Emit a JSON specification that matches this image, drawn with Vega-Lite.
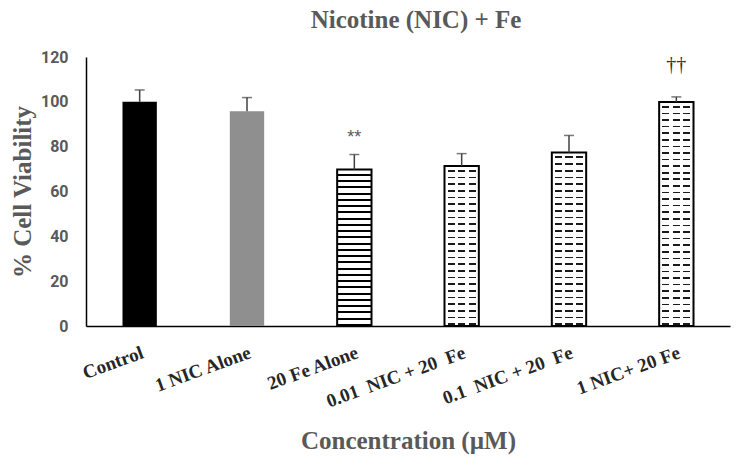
{
  "$schema": "https://vega.github.io/schema/vega-lite/v6.json",
  "autosize": {"type": "none"},
  "padding": {"left": 86, "top": 57, "right": 20, "bottom": 144},
  "width": 644,
  "height": 269,
  "background": "white",
  "config": {"view": {"stroke": null}},
  "title": {"text": "Nicotine (NIC) + Fe", "font": "Liberation Serif", "fontSize": 25, "fontWeight": "bold", "color": "#595959", "anchor": "middle", "dx": 8, "offset": 16},
  "data": {"values": [
    {"group": "Control", "value": 100, "err": 105.3, "sig": ""},
    {"group": "1 NIC Alone", "value": 95.8, "err": 101.9, "sig": ""},
    {"group": "20 Fe Alone", "value": 69.8, "err": 76.5, "sig": "**"},
    {"group": "0.01\u00a0 NIC + 20\u00a0 Fe", "value": 71.4, "err": 76.9, "sig": ""},
    {"group": "0.1\u00a0 NIC + 20\u00a0 Fe", "value": 77.4, "err": 85.0, "sig": ""},
    {"group": "1 NIC+ 20 Fe", "value": 99.9, "err": 102.2, "sig": "††"}
  ]},
  "encoding": {
    "x": {"field": "group", "type": "nominal", "sort": null,
      "scale": {"domain": ["Control", "1 NIC Alone", "20 Fe Alone", "0.01\u00a0 NIC + 20\u00a0 Fe", "0.1\u00a0 NIC + 20\u00a0 Fe", "1 NIC+ 20 Fe"], "paddingInner": 0.68, "paddingOuter": 0.34},
      "axis": {"title": "Concentration (µM)", "labelAngle": -20, "labelAlign": "right", "labelBaseline": "top", "labelPadding": 17, "labelOverlap": false, "labelFont": "Liberation Serif", "labelFontWeight": "bold", "labelFontSize": 19, "labelColor": "#262626", "ticks": false, "domainColor": "#000000", "domainWidth": 1.5, "titleFont": "Liberation Serif", "titleFontSize": 25, "titleFontWeight": "bold", "titleColor": "#595959", "titleY": 122, "titleBaseline": "alphabetic"}
    },
    "y": {"field": "value", "type": "quantitative", "title": "% Cell Viability",
      "scale": {"domain": [0, 120], "nice": false},
      "axis": {"values": [0, 20, 40, 60, 80, 100, 120], "grid": false, "ticks": false, "domainColor": "#000000", "domainWidth": 1.5, "labelFont": "Roboto", "labelFontWeight": "bold", "labelFontSize": 16, "labelColor": "#595959", "labelPadding": 18, "titleFont": "Liberation Serif", "titleFontSize": 25, "titleFontWeight": "bold", "titleColor": "#595959", "titleAngle": -90, "titleX": -56, "titleY": 134.5, "titleBaseline": "alphabetic", "titleAlign": "center"}
    }
  },
  "layer": [
    {"transform": [{"filter": {"field": "group", "equal": "Control"}}], "mark": {"type": "bar", "fill": "#000000"}},
    {"transform": [{"filter": {"field": "group", "equal": "1 NIC Alone"}}], "mark": {"type": "bar", "fill": "#8f8f8f"}},
    {"transform": [{"filter": {"field": "group", "equal": "20 Fe Alone"}}], "mark": {"type": "bar", "stroke": "#000000", "strokeWidth": 2,
      "fill": {"gradient": "linear", "x1": 0, "y1": 0, "x2": 0, "y2": 1, "stops": [
        {"offset": 0, "color": "#ffffff"},
        {"offset": 0.027, "color": "#ffffff"}, {"offset": 0.027, "color": "#000000"}, {"offset": 0.04, "color": "#000000"}, {"offset": 0.04, "color": "#ffffff"},
        {"offset": 0.067, "color": "#ffffff"}, {"offset": 0.067, "color": "#000000"}, {"offset": 0.08, "color": "#000000"}, {"offset": 0.08, "color": "#ffffff"},
        {"offset": 0.107, "color": "#ffffff"}, {"offset": 0.107, "color": "#000000"}, {"offset": 0.12, "color": "#000000"}, {"offset": 0.12, "color": "#ffffff"},
        {"offset": 0.147, "color": "#ffffff"}, {"offset": 0.147, "color": "#000000"}, {"offset": 0.16, "color": "#000000"}, {"offset": 0.16, "color": "#ffffff"},
        {"offset": 0.187, "color": "#ffffff"}, {"offset": 0.187, "color": "#000000"}, {"offset": 0.2, "color": "#000000"}, {"offset": 0.2, "color": "#ffffff"},
        {"offset": 0.227, "color": "#ffffff"}, {"offset": 0.227, "color": "#000000"}, {"offset": 0.24, "color": "#000000"}, {"offset": 0.24, "color": "#ffffff"},
        {"offset": 0.267, "color": "#ffffff"}, {"offset": 0.267, "color": "#000000"}, {"offset": 0.28, "color": "#000000"}, {"offset": 0.28, "color": "#ffffff"},
        {"offset": 0.307, "color": "#ffffff"}, {"offset": 0.307, "color": "#000000"}, {"offset": 0.32, "color": "#000000"}, {"offset": 0.32, "color": "#ffffff"},
        {"offset": 0.347, "color": "#ffffff"}, {"offset": 0.347, "color": "#000000"}, {"offset": 0.36, "color": "#000000"}, {"offset": 0.36, "color": "#ffffff"},
        {"offset": 0.387, "color": "#ffffff"}, {"offset": 0.387, "color": "#000000"}, {"offset": 0.4, "color": "#000000"}, {"offset": 0.4, "color": "#ffffff"},
        {"offset": 0.427, "color": "#ffffff"}, {"offset": 0.427, "color": "#000000"}, {"offset": 0.44, "color": "#000000"}, {"offset": 0.44, "color": "#ffffff"},
        {"offset": 0.467, "color": "#ffffff"}, {"offset": 0.467, "color": "#000000"}, {"offset": 0.48, "color": "#000000"}, {"offset": 0.48, "color": "#ffffff"},
        {"offset": 0.507, "color": "#ffffff"}, {"offset": 0.507, "color": "#000000"}, {"offset": 0.52, "color": "#000000"}, {"offset": 0.52, "color": "#ffffff"},
        {"offset": 0.547, "color": "#ffffff"}, {"offset": 0.547, "color": "#000000"}, {"offset": 0.56, "color": "#000000"}, {"offset": 0.56, "color": "#ffffff"},
        {"offset": 0.587, "color": "#ffffff"}, {"offset": 0.587, "color": "#000000"}, {"offset": 0.6, "color": "#000000"}, {"offset": 0.6, "color": "#ffffff"},
        {"offset": 0.627, "color": "#ffffff"}, {"offset": 0.627, "color": "#000000"}, {"offset": 0.64, "color": "#000000"}, {"offset": 0.64, "color": "#ffffff"},
        {"offset": 0.667, "color": "#ffffff"}, {"offset": 0.667, "color": "#000000"}, {"offset": 0.68, "color": "#000000"}, {"offset": 0.68, "color": "#ffffff"},
        {"offset": 0.707, "color": "#ffffff"}, {"offset": 0.707, "color": "#000000"}, {"offset": 0.72, "color": "#000000"}, {"offset": 0.72, "color": "#ffffff"},
        {"offset": 0.747, "color": "#ffffff"}, {"offset": 0.747, "color": "#000000"}, {"offset": 0.76, "color": "#000000"}, {"offset": 0.76, "color": "#ffffff"},
        {"offset": 0.787, "color": "#ffffff"}, {"offset": 0.787, "color": "#000000"}, {"offset": 0.8, "color": "#000000"}, {"offset": 0.8, "color": "#ffffff"},
        {"offset": 0.827, "color": "#ffffff"}, {"offset": 0.827, "color": "#000000"}, {"offset": 0.84, "color": "#000000"}, {"offset": 0.84, "color": "#ffffff"},
        {"offset": 0.867, "color": "#ffffff"}, {"offset": 0.867, "color": "#000000"}, {"offset": 0.88, "color": "#000000"}, {"offset": 0.88, "color": "#ffffff"},
        {"offset": 0.907, "color": "#ffffff"}, {"offset": 0.907, "color": "#000000"}, {"offset": 0.92, "color": "#000000"}, {"offset": 0.92, "color": "#ffffff"},
        {"offset": 0.947, "color": "#ffffff"}, {"offset": 0.947, "color": "#000000"}, {"offset": 0.96, "color": "#000000"}, {"offset": 0.96, "color": "#ffffff"},
        {"offset": 0.987, "color": "#ffffff"}, {"offset": 0.987, "color": "#000000"}, {"offset": 1, "color": "#000000"}
      ]}}},
    {"transform": [{"filter": {"field": "group", "equal": "0.01\u00a0 NIC + 20\u00a0 Fe"}}], "mark": {"type": "bar",
      "fill": {"gradient": "linear", "x1": 0, "y1": 0, "x2": 0, "y2": 1, "stops": [
        {"offset": 0, "color": "#ffffff"},
        {"offset": 0.025, "color": "#ffffff"}, {"offset": 0.025, "color": "#1a1a1a"}, {"offset": 0.03542, "color": "#1a1a1a"}, {"offset": 0.03542, "color": "#ffffff"},
        {"offset": 0.06667, "color": "#ffffff"}, {"offset": 0.06667, "color": "#1a1a1a"}, {"offset": 0.07708, "color": "#1a1a1a"}, {"offset": 0.07708, "color": "#ffffff"},
        {"offset": 0.10833, "color": "#ffffff"}, {"offset": 0.10833, "color": "#1a1a1a"}, {"offset": 0.11875, "color": "#1a1a1a"}, {"offset": 0.11875, "color": "#ffffff"},
        {"offset": 0.15, "color": "#ffffff"}, {"offset": 0.15, "color": "#1a1a1a"}, {"offset": 0.16042, "color": "#1a1a1a"}, {"offset": 0.16042, "color": "#ffffff"},
        {"offset": 0.19167, "color": "#ffffff"}, {"offset": 0.19167, "color": "#1a1a1a"}, {"offset": 0.20208, "color": "#1a1a1a"}, {"offset": 0.20208, "color": "#ffffff"},
        {"offset": 0.23333, "color": "#ffffff"}, {"offset": 0.23333, "color": "#1a1a1a"}, {"offset": 0.24375, "color": "#1a1a1a"}, {"offset": 0.24375, "color": "#ffffff"},
        {"offset": 0.275, "color": "#ffffff"}, {"offset": 0.275, "color": "#1a1a1a"}, {"offset": 0.28542, "color": "#1a1a1a"}, {"offset": 0.28542, "color": "#ffffff"},
        {"offset": 0.31667, "color": "#ffffff"}, {"offset": 0.31667, "color": "#1a1a1a"}, {"offset": 0.32708, "color": "#1a1a1a"}, {"offset": 0.32708, "color": "#ffffff"},
        {"offset": 0.35833, "color": "#ffffff"}, {"offset": 0.35833, "color": "#1a1a1a"}, {"offset": 0.36875, "color": "#1a1a1a"}, {"offset": 0.36875, "color": "#ffffff"},
        {"offset": 0.4, "color": "#ffffff"}, {"offset": 0.4, "color": "#1a1a1a"}, {"offset": 0.41042, "color": "#1a1a1a"}, {"offset": 0.41042, "color": "#ffffff"},
        {"offset": 0.44167, "color": "#ffffff"}, {"offset": 0.44167, "color": "#1a1a1a"}, {"offset": 0.45208, "color": "#1a1a1a"}, {"offset": 0.45208, "color": "#ffffff"},
        {"offset": 0.48333, "color": "#ffffff"}, {"offset": 0.48333, "color": "#1a1a1a"}, {"offset": 0.49375, "color": "#1a1a1a"}, {"offset": 0.49375, "color": "#ffffff"},
        {"offset": 0.525, "color": "#ffffff"}, {"offset": 0.525, "color": "#1a1a1a"}, {"offset": 0.53542, "color": "#1a1a1a"}, {"offset": 0.53542, "color": "#ffffff"},
        {"offset": 0.56667, "color": "#ffffff"}, {"offset": 0.56667, "color": "#1a1a1a"}, {"offset": 0.57708, "color": "#1a1a1a"}, {"offset": 0.57708, "color": "#ffffff"},
        {"offset": 0.60833, "color": "#ffffff"}, {"offset": 0.60833, "color": "#1a1a1a"}, {"offset": 0.61875, "color": "#1a1a1a"}, {"offset": 0.61875, "color": "#ffffff"},
        {"offset": 0.65, "color": "#ffffff"}, {"offset": 0.65, "color": "#1a1a1a"}, {"offset": 0.66042, "color": "#1a1a1a"}, {"offset": 0.66042, "color": "#ffffff"},
        {"offset": 0.69167, "color": "#ffffff"}, {"offset": 0.69167, "color": "#1a1a1a"}, {"offset": 0.70208, "color": "#1a1a1a"}, {"offset": 0.70208, "color": "#ffffff"},
        {"offset": 0.73333, "color": "#ffffff"}, {"offset": 0.73333, "color": "#1a1a1a"}, {"offset": 0.74375, "color": "#1a1a1a"}, {"offset": 0.74375, "color": "#ffffff"},
        {"offset": 0.775, "color": "#ffffff"}, {"offset": 0.775, "color": "#1a1a1a"}, {"offset": 0.78542, "color": "#1a1a1a"}, {"offset": 0.78542, "color": "#ffffff"},
        {"offset": 0.81667, "color": "#ffffff"}, {"offset": 0.81667, "color": "#1a1a1a"}, {"offset": 0.82708, "color": "#1a1a1a"}, {"offset": 0.82708, "color": "#ffffff"},
        {"offset": 0.85833, "color": "#ffffff"}, {"offset": 0.85833, "color": "#1a1a1a"}, {"offset": 0.86875, "color": "#1a1a1a"}, {"offset": 0.86875, "color": "#ffffff"},
        {"offset": 0.9, "color": "#ffffff"}, {"offset": 0.9, "color": "#1a1a1a"}, {"offset": 0.91042, "color": "#1a1a1a"}, {"offset": 0.91042, "color": "#ffffff"},
        {"offset": 0.94167, "color": "#ffffff"}, {"offset": 0.94167, "color": "#1a1a1a"}, {"offset": 0.95208, "color": "#1a1a1a"}, {"offset": 0.95208, "color": "#ffffff"},
        {"offset": 0.98333, "color": "#ffffff"}, {"offset": 0.98333, "color": "#1a1a1a"}, {"offset": 0.99375, "color": "#1a1a1a"}, {"offset": 0.99375, "color": "#ffffff"},
        {"offset": 1, "color": "#ffffff"}
      ]}}},
    {"transform": [{"filter": {"field": "group", "equal": "0.1\u00a0 NIC + 20\u00a0 Fe"}}], "mark": {"type": "bar",
      "fill": {"gradient": "linear", "x1": 0, "y1": 0, "x2": 0, "y2": 1, "stops": [
        {"offset": 0, "color": "#ffffff"},
        {"offset": 0.02308, "color": "#ffffff"}, {"offset": 0.02308, "color": "#1a1a1a"}, {"offset": 0.03269, "color": "#1a1a1a"}, {"offset": 0.03269, "color": "#ffffff"},
        {"offset": 0.06154, "color": "#ffffff"}, {"offset": 0.06154, "color": "#1a1a1a"}, {"offset": 0.07115, "color": "#1a1a1a"}, {"offset": 0.07115, "color": "#ffffff"},
        {"offset": 0.1, "color": "#ffffff"}, {"offset": 0.1, "color": "#1a1a1a"}, {"offset": 0.10962, "color": "#1a1a1a"}, {"offset": 0.10962, "color": "#ffffff"},
        {"offset": 0.13846, "color": "#ffffff"}, {"offset": 0.13846, "color": "#1a1a1a"}, {"offset": 0.14808, "color": "#1a1a1a"}, {"offset": 0.14808, "color": "#ffffff"},
        {"offset": 0.17692, "color": "#ffffff"}, {"offset": 0.17692, "color": "#1a1a1a"}, {"offset": 0.18654, "color": "#1a1a1a"}, {"offset": 0.18654, "color": "#ffffff"},
        {"offset": 0.21538, "color": "#ffffff"}, {"offset": 0.21538, "color": "#1a1a1a"}, {"offset": 0.225, "color": "#1a1a1a"}, {"offset": 0.225, "color": "#ffffff"},
        {"offset": 0.25385, "color": "#ffffff"}, {"offset": 0.25385, "color": "#1a1a1a"}, {"offset": 0.26346, "color": "#1a1a1a"}, {"offset": 0.26346, "color": "#ffffff"},
        {"offset": 0.29231, "color": "#ffffff"}, {"offset": 0.29231, "color": "#1a1a1a"}, {"offset": 0.30192, "color": "#1a1a1a"}, {"offset": 0.30192, "color": "#ffffff"},
        {"offset": 0.33077, "color": "#ffffff"}, {"offset": 0.33077, "color": "#1a1a1a"}, {"offset": 0.34038, "color": "#1a1a1a"}, {"offset": 0.34038, "color": "#ffffff"},
        {"offset": 0.36923, "color": "#ffffff"}, {"offset": 0.36923, "color": "#1a1a1a"}, {"offset": 0.37885, "color": "#1a1a1a"}, {"offset": 0.37885, "color": "#ffffff"},
        {"offset": 0.40769, "color": "#ffffff"}, {"offset": 0.40769, "color": "#1a1a1a"}, {"offset": 0.41731, "color": "#1a1a1a"}, {"offset": 0.41731, "color": "#ffffff"},
        {"offset": 0.44615, "color": "#ffffff"}, {"offset": 0.44615, "color": "#1a1a1a"}, {"offset": 0.45577, "color": "#1a1a1a"}, {"offset": 0.45577, "color": "#ffffff"},
        {"offset": 0.48462, "color": "#ffffff"}, {"offset": 0.48462, "color": "#1a1a1a"}, {"offset": 0.49423, "color": "#1a1a1a"}, {"offset": 0.49423, "color": "#ffffff"},
        {"offset": 0.52308, "color": "#ffffff"}, {"offset": 0.52308, "color": "#1a1a1a"}, {"offset": 0.53269, "color": "#1a1a1a"}, {"offset": 0.53269, "color": "#ffffff"},
        {"offset": 0.56154, "color": "#ffffff"}, {"offset": 0.56154, "color": "#1a1a1a"}, {"offset": 0.57115, "color": "#1a1a1a"}, {"offset": 0.57115, "color": "#ffffff"},
        {"offset": 0.6, "color": "#ffffff"}, {"offset": 0.6, "color": "#1a1a1a"}, {"offset": 0.60962, "color": "#1a1a1a"}, {"offset": 0.60962, "color": "#ffffff"},
        {"offset": 0.63846, "color": "#ffffff"}, {"offset": 0.63846, "color": "#1a1a1a"}, {"offset": 0.64808, "color": "#1a1a1a"}, {"offset": 0.64808, "color": "#ffffff"},
        {"offset": 0.67692, "color": "#ffffff"}, {"offset": 0.67692, "color": "#1a1a1a"}, {"offset": 0.68654, "color": "#1a1a1a"}, {"offset": 0.68654, "color": "#ffffff"},
        {"offset": 0.71538, "color": "#ffffff"}, {"offset": 0.71538, "color": "#1a1a1a"}, {"offset": 0.725, "color": "#1a1a1a"}, {"offset": 0.725, "color": "#ffffff"},
        {"offset": 0.75385, "color": "#ffffff"}, {"offset": 0.75385, "color": "#1a1a1a"}, {"offset": 0.76346, "color": "#1a1a1a"}, {"offset": 0.76346, "color": "#ffffff"},
        {"offset": 0.79231, "color": "#ffffff"}, {"offset": 0.79231, "color": "#1a1a1a"}, {"offset": 0.80192, "color": "#1a1a1a"}, {"offset": 0.80192, "color": "#ffffff"},
        {"offset": 0.83077, "color": "#ffffff"}, {"offset": 0.83077, "color": "#1a1a1a"}, {"offset": 0.84038, "color": "#1a1a1a"}, {"offset": 0.84038, "color": "#ffffff"},
        {"offset": 0.86923, "color": "#ffffff"}, {"offset": 0.86923, "color": "#1a1a1a"}, {"offset": 0.87885, "color": "#1a1a1a"}, {"offset": 0.87885, "color": "#ffffff"},
        {"offset": 0.90769, "color": "#ffffff"}, {"offset": 0.90769, "color": "#1a1a1a"}, {"offset": 0.91731, "color": "#1a1a1a"}, {"offset": 0.91731, "color": "#ffffff"},
        {"offset": 0.94615, "color": "#ffffff"}, {"offset": 0.94615, "color": "#1a1a1a"}, {"offset": 0.95577, "color": "#1a1a1a"}, {"offset": 0.95577, "color": "#ffffff"},
        {"offset": 0.98462, "color": "#ffffff"}, {"offset": 0.98462, "color": "#1a1a1a"}, {"offset": 0.99423, "color": "#1a1a1a"}, {"offset": 0.99423, "color": "#ffffff"},
        {"offset": 1, "color": "#ffffff"}
      ]}}},
    {"transform": [{"filter": {"field": "group", "equal": "1 NIC+ 20 Fe"}}], "mark": {"type": "bar",
      "fill": {"gradient": "linear", "x1": 0, "y1": 0, "x2": 0, "y2": 1, "stops": [
        {"offset": 0, "color": "#ffffff"},
        {"offset": 0.01765, "color": "#ffffff"}, {"offset": 0.01765, "color": "#1a1a1a"}, {"offset": 0.025, "color": "#1a1a1a"}, {"offset": 0.025, "color": "#ffffff"},
        {"offset": 0.04706, "color": "#ffffff"}, {"offset": 0.04706, "color": "#1a1a1a"}, {"offset": 0.05441, "color": "#1a1a1a"}, {"offset": 0.05441, "color": "#ffffff"},
        {"offset": 0.07647, "color": "#ffffff"}, {"offset": 0.07647, "color": "#1a1a1a"}, {"offset": 0.08382, "color": "#1a1a1a"}, {"offset": 0.08382, "color": "#ffffff"},
        {"offset": 0.10588, "color": "#ffffff"}, {"offset": 0.10588, "color": "#1a1a1a"}, {"offset": 0.11324, "color": "#1a1a1a"}, {"offset": 0.11324, "color": "#ffffff"},
        {"offset": 0.13529, "color": "#ffffff"}, {"offset": 0.13529, "color": "#1a1a1a"}, {"offset": 0.14265, "color": "#1a1a1a"}, {"offset": 0.14265, "color": "#ffffff"},
        {"offset": 0.16471, "color": "#ffffff"}, {"offset": 0.16471, "color": "#1a1a1a"}, {"offset": 0.17206, "color": "#1a1a1a"}, {"offset": 0.17206, "color": "#ffffff"},
        {"offset": 0.19412, "color": "#ffffff"}, {"offset": 0.19412, "color": "#1a1a1a"}, {"offset": 0.20147, "color": "#1a1a1a"}, {"offset": 0.20147, "color": "#ffffff"},
        {"offset": 0.22353, "color": "#ffffff"}, {"offset": 0.22353, "color": "#1a1a1a"}, {"offset": 0.23088, "color": "#1a1a1a"}, {"offset": 0.23088, "color": "#ffffff"},
        {"offset": 0.25294, "color": "#ffffff"}, {"offset": 0.25294, "color": "#1a1a1a"}, {"offset": 0.26029, "color": "#1a1a1a"}, {"offset": 0.26029, "color": "#ffffff"},
        {"offset": 0.28235, "color": "#ffffff"}, {"offset": 0.28235, "color": "#1a1a1a"}, {"offset": 0.28971, "color": "#1a1a1a"}, {"offset": 0.28971, "color": "#ffffff"},
        {"offset": 0.31176, "color": "#ffffff"}, {"offset": 0.31176, "color": "#1a1a1a"}, {"offset": 0.31912, "color": "#1a1a1a"}, {"offset": 0.31912, "color": "#ffffff"},
        {"offset": 0.34118, "color": "#ffffff"}, {"offset": 0.34118, "color": "#1a1a1a"}, {"offset": 0.34853, "color": "#1a1a1a"}, {"offset": 0.34853, "color": "#ffffff"},
        {"offset": 0.37059, "color": "#ffffff"}, {"offset": 0.37059, "color": "#1a1a1a"}, {"offset": 0.37794, "color": "#1a1a1a"}, {"offset": 0.37794, "color": "#ffffff"},
        {"offset": 0.4, "color": "#ffffff"}, {"offset": 0.4, "color": "#1a1a1a"}, {"offset": 0.40735, "color": "#1a1a1a"}, {"offset": 0.40735, "color": "#ffffff"},
        {"offset": 0.42941, "color": "#ffffff"}, {"offset": 0.42941, "color": "#1a1a1a"}, {"offset": 0.43676, "color": "#1a1a1a"}, {"offset": 0.43676, "color": "#ffffff"},
        {"offset": 0.45882, "color": "#ffffff"}, {"offset": 0.45882, "color": "#1a1a1a"}, {"offset": 0.46618, "color": "#1a1a1a"}, {"offset": 0.46618, "color": "#ffffff"},
        {"offset": 0.48824, "color": "#ffffff"}, {"offset": 0.48824, "color": "#1a1a1a"}, {"offset": 0.49559, "color": "#1a1a1a"}, {"offset": 0.49559, "color": "#ffffff"},
        {"offset": 0.51765, "color": "#ffffff"}, {"offset": 0.51765, "color": "#1a1a1a"}, {"offset": 0.525, "color": "#1a1a1a"}, {"offset": 0.525, "color": "#ffffff"},
        {"offset": 0.54706, "color": "#ffffff"}, {"offset": 0.54706, "color": "#1a1a1a"}, {"offset": 0.55441, "color": "#1a1a1a"}, {"offset": 0.55441, "color": "#ffffff"},
        {"offset": 0.57647, "color": "#ffffff"}, {"offset": 0.57647, "color": "#1a1a1a"}, {"offset": 0.58382, "color": "#1a1a1a"}, {"offset": 0.58382, "color": "#ffffff"},
        {"offset": 0.60588, "color": "#ffffff"}, {"offset": 0.60588, "color": "#1a1a1a"}, {"offset": 0.61324, "color": "#1a1a1a"}, {"offset": 0.61324, "color": "#ffffff"},
        {"offset": 0.63529, "color": "#ffffff"}, {"offset": 0.63529, "color": "#1a1a1a"}, {"offset": 0.64265, "color": "#1a1a1a"}, {"offset": 0.64265, "color": "#ffffff"},
        {"offset": 0.66471, "color": "#ffffff"}, {"offset": 0.66471, "color": "#1a1a1a"}, {"offset": 0.67206, "color": "#1a1a1a"}, {"offset": 0.67206, "color": "#ffffff"},
        {"offset": 0.69412, "color": "#ffffff"}, {"offset": 0.69412, "color": "#1a1a1a"}, {"offset": 0.70147, "color": "#1a1a1a"}, {"offset": 0.70147, "color": "#ffffff"},
        {"offset": 0.72353, "color": "#ffffff"}, {"offset": 0.72353, "color": "#1a1a1a"}, {"offset": 0.73088, "color": "#1a1a1a"}, {"offset": 0.73088, "color": "#ffffff"},
        {"offset": 0.75294, "color": "#ffffff"}, {"offset": 0.75294, "color": "#1a1a1a"}, {"offset": 0.76029, "color": "#1a1a1a"}, {"offset": 0.76029, "color": "#ffffff"},
        {"offset": 0.78235, "color": "#ffffff"}, {"offset": 0.78235, "color": "#1a1a1a"}, {"offset": 0.78971, "color": "#1a1a1a"}, {"offset": 0.78971, "color": "#ffffff"},
        {"offset": 0.81176, "color": "#ffffff"}, {"offset": 0.81176, "color": "#1a1a1a"}, {"offset": 0.81912, "color": "#1a1a1a"}, {"offset": 0.81912, "color": "#ffffff"},
        {"offset": 0.84118, "color": "#ffffff"}, {"offset": 0.84118, "color": "#1a1a1a"}, {"offset": 0.84853, "color": "#1a1a1a"}, {"offset": 0.84853, "color": "#ffffff"},
        {"offset": 0.87059, "color": "#ffffff"}, {"offset": 0.87059, "color": "#1a1a1a"}, {"offset": 0.87794, "color": "#1a1a1a"}, {"offset": 0.87794, "color": "#ffffff"},
        {"offset": 0.9, "color": "#ffffff"}, {"offset": 0.9, "color": "#1a1a1a"}, {"offset": 0.90735, "color": "#1a1a1a"}, {"offset": 0.90735, "color": "#ffffff"},
        {"offset": 0.92941, "color": "#ffffff"}, {"offset": 0.92941, "color": "#1a1a1a"}, {"offset": 0.93676, "color": "#1a1a1a"}, {"offset": 0.93676, "color": "#ffffff"},
        {"offset": 0.95882, "color": "#ffffff"}, {"offset": 0.95882, "color": "#1a1a1a"}, {"offset": 0.96618, "color": "#1a1a1a"}, {"offset": 0.96618, "color": "#ffffff"},
        {"offset": 0.98824, "color": "#ffffff"}, {"offset": 0.98824, "color": "#1a1a1a"}, {"offset": 0.99559, "color": "#1a1a1a"}, {"offset": 0.99559, "color": "#ffffff"},
        {"offset": 1, "color": "#ffffff"}
      ]}}},
    {"transform": [{"filter": {"field": "group", "oneOf": ["0.01\u00a0 NIC + 20\u00a0 Fe", "0.1\u00a0 NIC + 20\u00a0 Fe", "1 NIC+ 20 Fe"]}}], "mark": {"type": "bar", "stroke": "#000000", "strokeWidth": 2,
      "fill": {"gradient": "linear", "x1": 0, "y1": 0, "x2": 1, "y2": 0, "stops": [
        {"offset": 0, "color": "rgba(255,255,255,1)"}, {"offset": 0.088, "color": "rgba(255,255,255,1)"}, {"offset": 0.088, "color": "rgba(255,255,255,0)"},
        {"offset": 0.294, "color": "rgba(255,255,255,0)"}, {"offset": 0.294, "color": "rgba(255,255,255,1)"}, {"offset": 0.397, "color": "rgba(255,255,255,1)"},
        {"offset": 0.397, "color": "rgba(255,255,255,0)"}, {"offset": 0.603, "color": "rgba(255,255,255,0)"}, {"offset": 0.603, "color": "rgba(255,255,255,1)"},
        {"offset": 0.706, "color": "rgba(255,255,255,1)"}, {"offset": 0.706, "color": "rgba(255,255,255,0)"}, {"offset": 0.912, "color": "rgba(255,255,255,0)"},
        {"offset": 0.912, "color": "rgba(255,255,255,1)"}, {"offset": 1, "color": "rgba(255,255,255,1)"}
      ]}}},
    {"mark": {"type": "rule", "color": "#404040", "strokeWidth": 1.5},
      "encoding": {"y": {"field": "value", "type": "quantitative", "title": "% Cell Viability"}, "y2": {"field": "err"}}},
    {"mark": {"type": "tick", "color": "#404040", "thickness": 1.5, "size": 10},
      "encoding": {"y": {"field": "err", "type": "quantitative", "title": "% Cell Viability"}}},
    {"transform": [{"filter": "datum.sig === '**'"}], "mark": {"type": "text", "font": "Liberation Sans", "fontSize": 18, "color": "#595959", "baseline": "alphabetic", "dy": -12},
      "encoding": {"y": {"field": "err", "type": "quantitative", "title": "% Cell Viability"}, "text": {"field": "sig"}}},
    {"transform": [{"filter": "datum.sig === '††'"}], "mark": {"type": "text", "font": "Liberation Serif", "fontSize": 20, "color": "#333333", "baseline": "alphabetic", "dy": -26},
      "encoding": {"y": {"field": "err", "type": "quantitative", "title": "% Cell Viability"}, "text": {"field": "sig"}}}
  ]
}
